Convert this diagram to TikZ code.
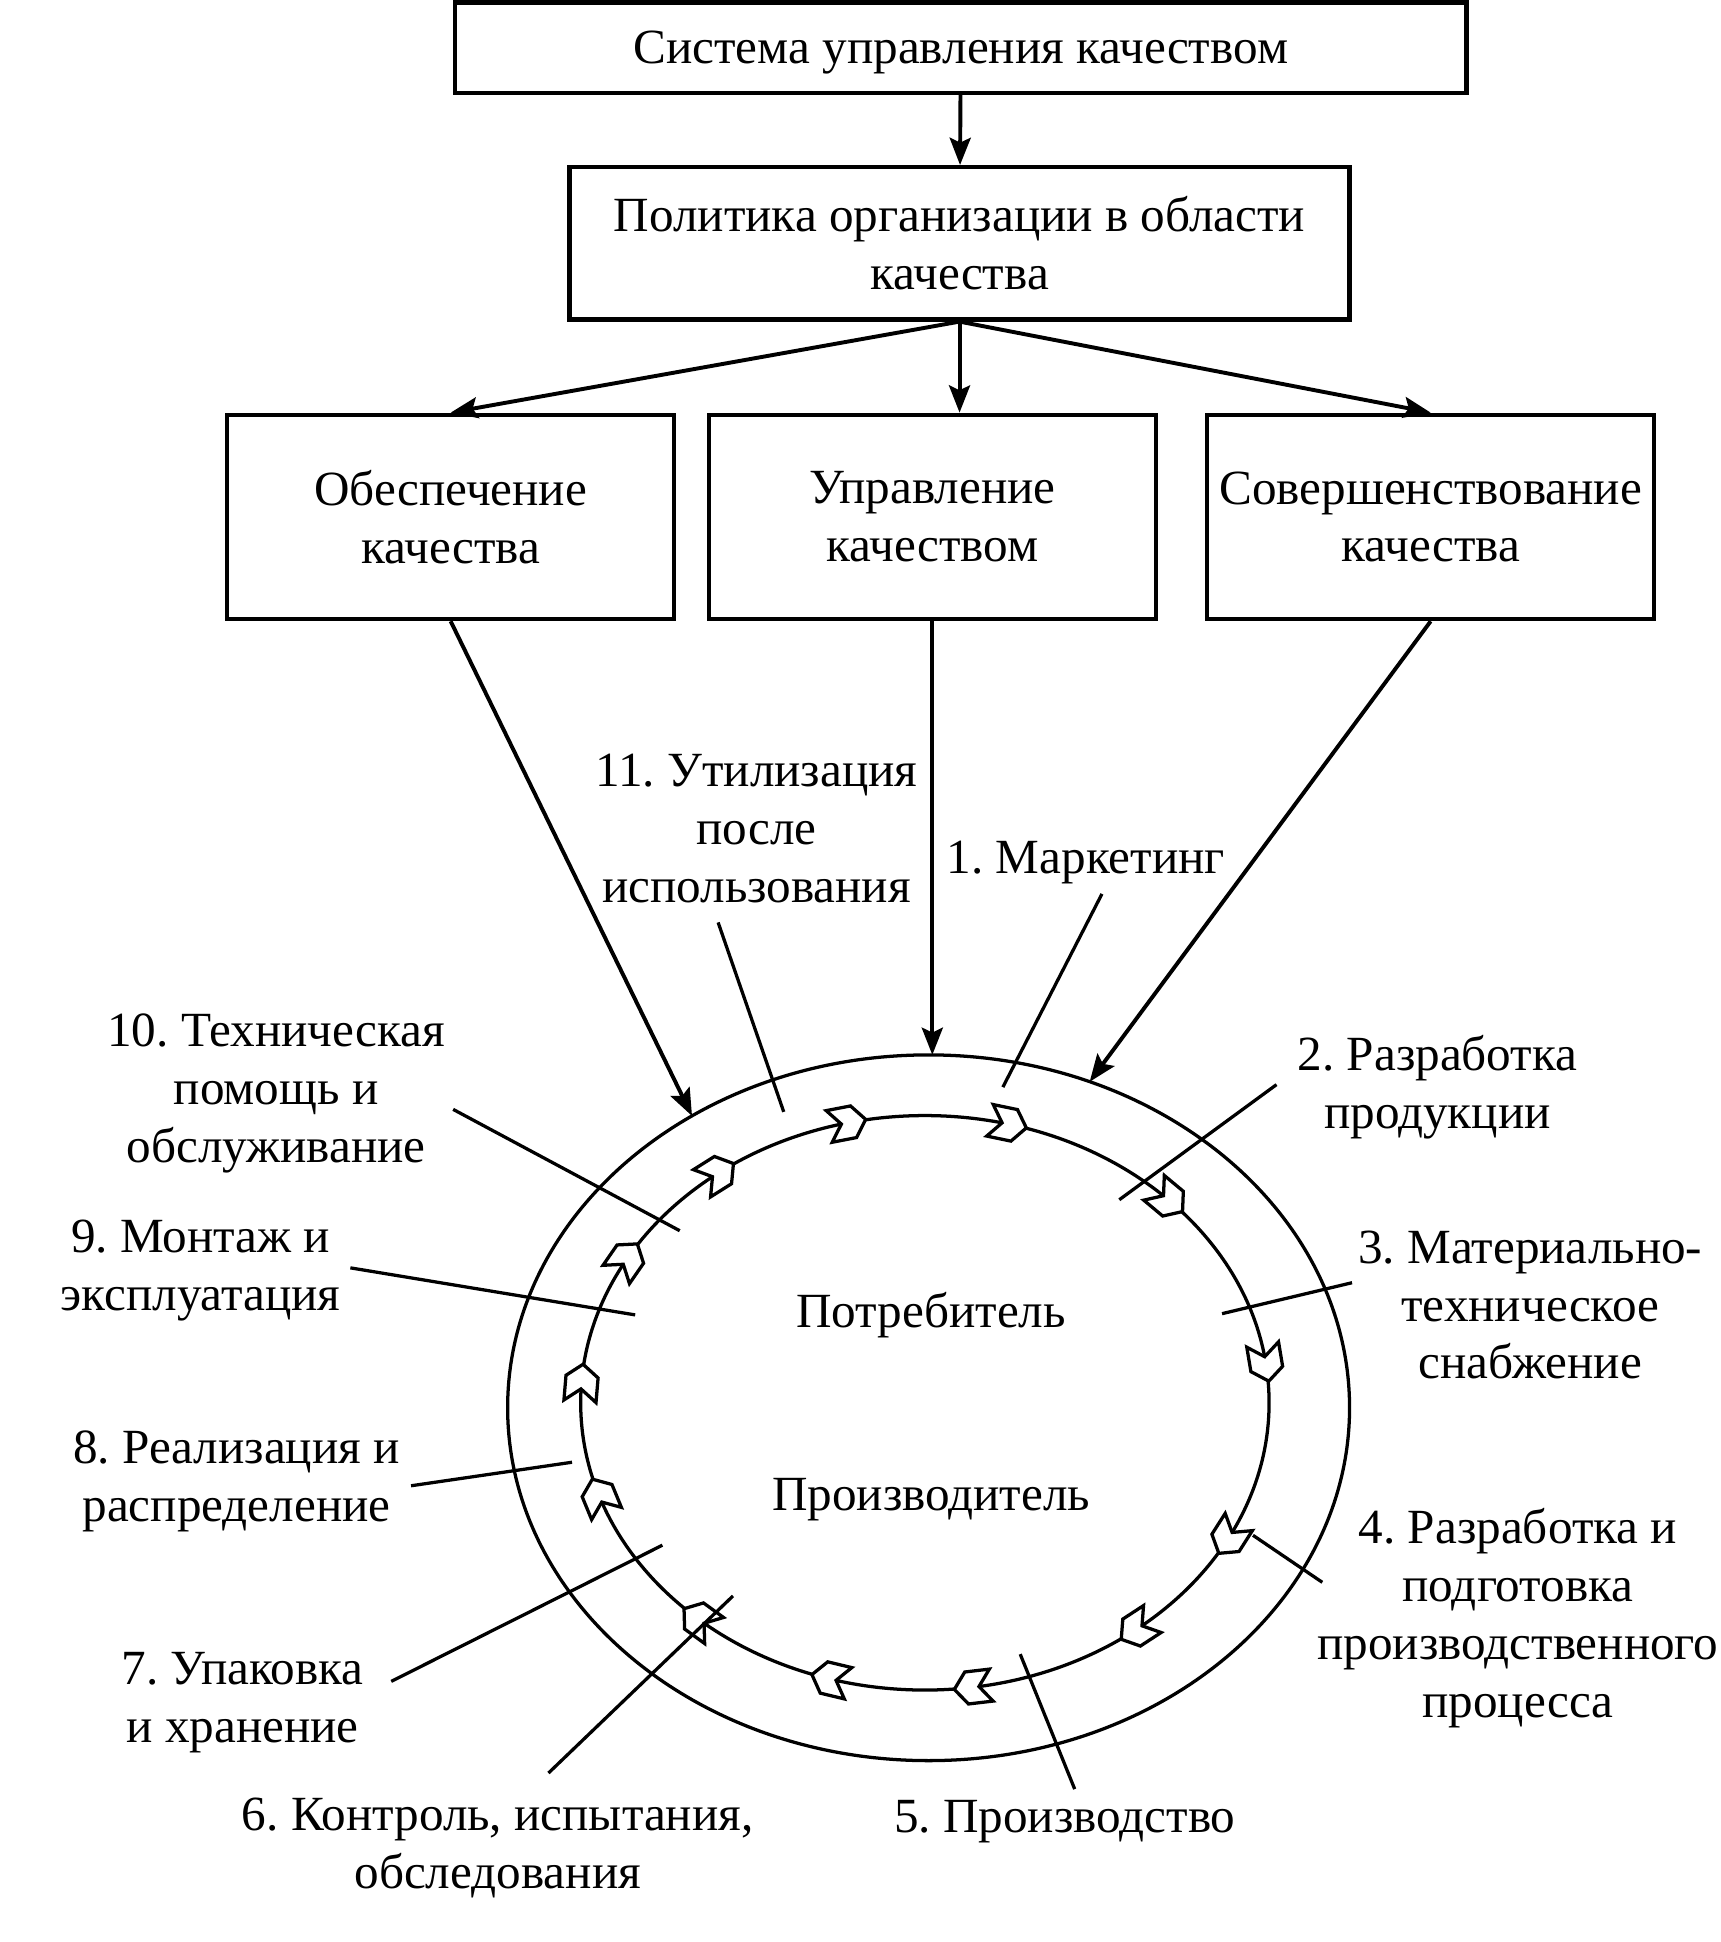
\documentclass[tikz,border=0pt]{standalone}
\usepackage{fontspec}
\setmainfont{Liberation Serif}
\frenchspacing
\usetikzlibrary{arrows.meta}
\def\chevron{(-15,13) -- (-5,0) -- (-15,-13) -- (5,-13) -- (15,0) -- (5,13) -- cycle}
\def\ringarrow#1{%
  \pgfmathsetmacro\tang{atan2(-232*cos(#1),-278*sin(#1))}%
  \draw[ring,fill=white,shift={(inctr)},shift={(#1:278 and 232)},rotate=\tang] \chevron;}
\def\lead{\draw[ring]}
\tikzset{
  box/.style={draw,line width=1pt,align=center,inner sep=0pt},
  lbl/.style={align=center,inner sep=0pt},
  oneline/.style={text depth=0pt},
  ring/.style={line width=0.75pt},
  arr/.style={line width=0.9pt,-{Stealth[length=2.2mm,width=1.7mm,inset=0.4mm]}},
}

\begin{document}
\begin{tikzpicture}[x=0.1mm,y=-0.1mm,font=\fontsize{11.3}{13.3}\selectfont]
    \useasboundingbox (0,0) rectangle (1390,1568.5);
    % boxes
    \node[box,oneline,minimum width=81.7mm,minimum height=7.3mm] (qms) at (776,38.5) {Система управления качеством};
    \node[box,minimum width=63mm,minimum height=12.3mm] (policy) at (775,196.5) {Политика организации в области\\качества};
    \node[box,minimum width=36.1mm,minimum height=16.5mm] (assur) at (364,417.5) {Обеспечение\\качества};
    \node[box,minimum width=36.1mm,minimum height=16.5mm] (ctrl) at (753,417.5) {Управление\\качеством};
    \node[box,minimum width=36.1mm,minimum height=16.5mm] (impr) at (1155.5,417.5) {Совершенствование\\качества};
    \draw[arr] (qms) -- (policy);
    \draw[arr] (policy.south) -- (assur.north);
    \draw[arr] (policy.south) -- (policy.south |- ctrl.north);
    \draw[arr] (policy.south) -- (impr.north);

    % rings
    \coordinate (ctr) at (750,1137);
    \coordinate (inctr) at (747,1133);
    \draw[ring] (ctr) ellipse [x radius=340,y radius=285];
    \draw[ring] (inctr) ellipse [x radius=278,y radius=232];
    \path (ctr) ++(235.8:340 and 285) coordinate (hitA);
    \path (ctr) ++(270:340 and 285) coordinate (hitB);
    \path (ctr) ++(292.5:340 and 285) coordinate (hitC);
    \draw[arr] (assur.south) -- (hitA);
    \draw[arr] (ctrl.south) -- (ctrl.south |- hitB);
    \draw[arr] (impr.south) -- (hitC);

    \ringarrow{257}
    \ringarrow{284}
    \ringarrow{315}
    \ringarrow{352}
    \ringarrow{28}
    \ringarrow{52}
    \ringarrow{82}
    \ringarrow{106}
    \ringarrow{131}
    \ringarrow{161}
    \ringarrow{184}
    \ringarrow{210}
    \ringarrow{233}

    \node[lbl,oneline] (cons) at (752,1058) {Потребитель};
    \node[lbl,oneline] (prod) at (752,1207) {Производитель};

    % stages
    \node[lbl,oneline] (s1) at (877,692) {1. Маркетинг};
    \node[lbl] (s2) at (1161,878) {2. Разработка\\продукции};
    \node[lbl] (s3) at (1236,1054) {3. Материально-\\техническое\\снабжение};
    \node[lbl] (s4) at (1226,1307) {4. Разработка и\\подготовка\\производственного\\процесса};
    \node[lbl,oneline] (s5) at (860,1467) {5. Производство};
    \node[lbl] (s6) at (402,1492.5) {6. Контроль, испытания,\\обследования};
    \node[lbl] (s7) at (196,1375) {7. Упаковка\\и хранение};
    \node[lbl] (s8) at (191,1196.5) {8. Реализация и\\распределение};
    \node[lbl] (s9) at (162,1026.5) {9. Монтаж и\\эксплуатация};
    \node[lbl] (s10) at (223,883) {10. Техническая\\помощь и\\обслуживание};
    \node[lbl] (s11) at (611,669) {11. Утилизация\\после\\использования};

    % leader lines
    \coordinate (l1a) at (890,722);   \coordinate (l1b) at (810,878);
    \coordinate (l2a) at (1031,876);  \coordinate (l2b) at (904,969);
    \coordinate (l3a) at (1092,1036); \coordinate (l3b) at (987,1061);
    \coordinate (l4a) at (1068,1278); \coordinate (l4b) at (1012,1240);
    \coordinate (l5a) at (868,1445);  \coordinate (l5b) at (824,1336);
    \coordinate (l6a) at (443,1432);  \coordinate (l6b) at (592,1289);
    \coordinate (l7a) at (316,1358);  \coordinate (l7b) at (535,1248);
    \coordinate (l8a) at (332,1200);  \coordinate (l8b) at (462,1181);
    \coordinate (l9a) at (283,1024);  \coordinate (l9b) at (513,1062);
    \coordinate (l10a) at (366,896);  \coordinate (l10b) at (549,994);
    \coordinate (l11a) at (580,745);  \coordinate (l11b) at (633,898);
    \lead (l1a) -- (l1b);
    \lead (l2a) -- (l2b);
    \lead (l3a) -- (l3b);
    \lead (l4a) -- (l4b);
    \lead (l5a) -- (l5b);
    \lead (l6a) -- (l6b);
    \lead (l7a) -- (l7b);
    \lead (l8a) -- (l8b);
    \lead (l9a) -- (l9b);
    \lead (l10a) -- (l10b);
    \lead (l11a) -- (l11b);
\end{tikzpicture}
\end{document}
